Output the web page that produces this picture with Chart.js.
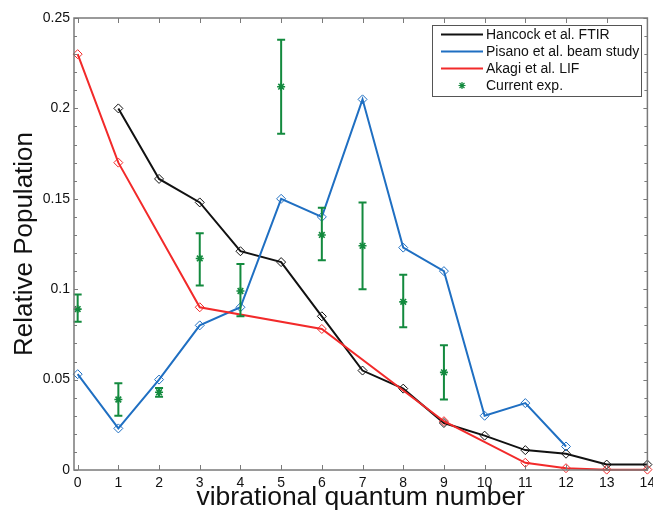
<!DOCTYPE html>
<html>
<head>
<meta charset="utf-8">
<script src="https://cdn.jsdelivr.net/npm/chart.js@4"></script>
<style>
  html, body { margin: 0; padding: 0; background: #fff; }
  #wrap { width: 653px; height: 516px; }
</style>
</head>
<body>
<div id="wrap"><canvas id="chart" width="653" height="516"></canvas></div>
<script>
// vibrational population distributions

const hancockV = [1, 2, 3, 4, 5, 6, 7, 8, 9, 10, 11, 12, 13, 14];
const hancockPop = [0.200, 0.161, 0.148, 0.121, 0.115, 0.085, 0.055, 0.045, 0.026, 0.019, 0.011, 0.009, 0.003, 0.003];

const pisanoV = [0, 1, 2, 3, 4, 5, 6, 7, 8, 9, 10, 11, 12];
const pisanoPop = [0.053, 0.023, 0.050, 0.080, 0.090, 0.150, 0.140, 0.205, 0.123, 0.110, 0.030, 0.037, 0.013];

const akagiV = [0, 1, 3, 6, 9, 11, 12, 13, 14];
const akagiPop = [0.230, 0.170, 0.090, 0.078, 0.027, 0.004, 0.001, 0.0002, 0.0002];

const currentV = [0, 1, 2, 3, 4, 5, 6, 7, 8, 9];
const currentPop = [0.089, 0.039, 0.043, 0.117, 0.099, 0.212, 0.130, 0.124, 0.093, 0.054];
const currentLow = [0.082, 0.030, 0.0405, 0.102, 0.085, 0.186, 0.116, 0.100, 0.079, 0.039];
const currentHigh = [0.097, 0.048, 0.0453, 0.131, 0.114, 0.238, 0.145, 0.148, 0.108, 0.069];

const xTicks = [0, 1, 2, 3, 4, 5, 6, 7, 8, 9, 10, 11, 12, 13, 14];

const legendNames = ["Hancock et al. FTIR", "Pisano et al. beam study", "Akagi et al. LIF", "Current exp."];

const BLACK = "#111111";
const BLUE = "#1f6fc2";
const RED = "#f22a2a";
const GREEN = "#138a3e";
const AXIS = "#7a7a7a";
const FONT = "'Liberation Sans', Arial, sans-serif";

const pts = (xs, ys) => xs.map((x, i) => ({ x: x, y: ys[i] }));

// ================= PLUGINS =================
const errorBars = {
  id: "errorBars",
  afterDatasetsDraw(chart) {
    const { ctx, scales: { x, y } } = chart;
    ctx.save();
    ctx.strokeStyle = GREEN;
    ctx.lineWidth = 2;
    currentV.forEach((v, i) => {
      const px = x.getPixelForValue(v);
      const top = y.getPixelForValue(currentHigh[i]);
      const bot = y.getPixelForValue(currentLow[i]);
      ctx.beginPath();
      ctx.moveTo(px, top); ctx.lineTo(px, bot);
      ctx.moveTo(px - 4, top); ctx.lineTo(px + 4, top);
      ctx.moveTo(px - 4, bot); ctx.lineTo(px + 4, bot);
      ctx.stroke();
    });
    ctx.restore();
  }
};

const axesBox = {
  id: "axesBox",
  afterDraw(chart) {
    const { ctx, chartArea: a, scales: { x, y } } = chart;
    ctx.save();
    ctx.strokeStyle = AXIS;
    ctx.lineWidth = 1.5;
    ctx.strokeRect(a.left, a.top, a.right - a.left, a.bottom - a.top);
    ctx.lineWidth = 1;
    ctx.beginPath();
    xTicks.forEach(v => {
      const px = Math.round(x.getPixelForValue(v)) + 0.5;
      ctx.moveTo(px, a.bottom); ctx.lineTo(px, a.bottom - 5);
      ctx.moveTo(px, a.top); ctx.lineTo(px, a.top + 5);
    });
    y.ticks.forEach(t => {
      const py = Math.round(y.getPixelForValue(t.value)) + 0.5;
      const major = Math.round(t.value * 100) % 5 === 0;
      const len = major ? 4 : 3;
      ctx.moveTo(a.left, py); ctx.lineTo(a.left + len, py);
      ctx.moveTo(a.right, py); ctx.lineTo(a.right - len, py);
    });
    ctx.stroke();
    ctx.restore();
  }
};

const boxLegend = {
  id: "boxLegend",
  afterDraw(chart) {
    const { ctx } = chart;
    const L = 432, T = 25, W = 209, H = 71;
    const colors = [BLACK, BLUE, RED, GREEN];
    ctx.save();
    ctx.fillStyle = "#fff";
    ctx.fillRect(L, T, W, H);
    ctx.strokeStyle = "#555";
    ctx.lineWidth = 1;
    ctx.strokeRect(L + 0.5, T + 0.5, W, H);
    ctx.font = "14px " + FONT;
    ctx.textBaseline = "middle";
    legendNames.forEach((name, i) => {
      const yy = T + 9.5 + i * 17;
      if (i < 3) {
        ctx.strokeStyle = colors[i];
        ctx.lineWidth = 2;
        ctx.beginPath();
        ctx.moveTo(441, yy); ctx.lineTo(483, yy);
        ctx.stroke();
      } else {
        ctx.strokeStyle = GREEN;
        ctx.lineWidth = 1.2;
        ctx.beginPath();
        for (let k = 0; k < 4; k++) {
          const ang = k * Math.PI / 4;
          ctx.moveTo(462 - 3.5 * Math.cos(ang), yy - 3.5 * Math.sin(ang));
          ctx.lineTo(462 + 3.5 * Math.cos(ang), yy + 3.5 * Math.sin(ang));
        }
        ctx.stroke();
      }
      ctx.fillStyle = "#111";
      ctx.fillText(name, 486, yy + 1);
    });
    ctx.restore();
  }
};

// ================= CHART =================
const lineSet = (label, data, color, order) => ({
  label, data, order,
  borderColor: color,
  backgroundColor: "rgba(0,0,0,0)",
  borderWidth: 2,
  pointStyle: "rectRot",
  pointRadius: 4.5,
  pointBorderWidth: 1,
  pointBorderColor: color,
  pointBackgroundColor: "rgba(0,0,0,0)",
  showLine: true,
  tension: 0,
  clip: false
});

new Chart(document.getElementById("chart"), {
  type: "scatter",
  data: {
    datasets: [
      lineSet(legendNames[0], pts(hancockV, hancockPop), BLACK, 3),
      lineSet(legendNames[1], pts(pisanoV, pisanoPop), BLUE, 2),
      lineSet(legendNames[2], pts(akagiV, akagiPop), RED, 1),
      {
        label: legendNames[3],
        data: pts(currentV, currentPop),
        order: 0,
        showLine: false,
        pointStyle: "star",
        pointRadius: 4,
        pointBorderWidth: 1.6,
        borderColor: GREEN,
        backgroundColor: GREEN,
        clip: false
      }
    ]
  },
  options: {
    responsive: false,
    animation: false,
    layout: { padding: { top: 18, right: 5, left: 0, bottom: 0 } },
    plugins: { legend: { display: false }, tooltip: { enabled: false } },
    scales: {
      x: {
        type: "linear",
        min: -0.09,
        max: 14,
        afterBuildTicks: s => { s.ticks = xTicks.map(v => ({ value: v })); },
        afterFit: s => { s.height = 46; s.paddingLeft = 0; s.paddingRight = 0; },
        grid: { display: false, drawTicks: false },
        border: { display: false },
        ticks: { padding: 5, color: "#111", font: { family: FONT, size: 14 }, autoSkip: false, maxRotation: 0 },
        title: { display: true, text: "vibrational quantum number", color: "#111",
                 font: { family: FONT, size: 26.5 }, padding: { top: 0, bottom: 2 } }
      },
      y: {
        min: 0,
        max: 0.25,
        afterFit: s => { s.width = 74; s.paddingTop = 0; s.paddingBottom = 0; },
        grid: { display: false, drawTicks: false },
        border: { display: false },
        ticks: {
          stepSize: 0.01,
          autoSkip: false,
          padding: 4,
          color: "#111",
          font: { family: FONT, size: 14 },
          callback: v => (Math.round(v * 100) % 5 === 0 ? String(+v.toFixed(2)) : "")
        },
        title: { display: true, text: "Relative Population", color: "#111",
                 font: { family: FONT, size: 26 }, padding: { top: 9, bottom: 0 } }
      }
    }
  },
  plugins: [errorBars, axesBox, boxLegend]
});
</script>
</body>
</html>
